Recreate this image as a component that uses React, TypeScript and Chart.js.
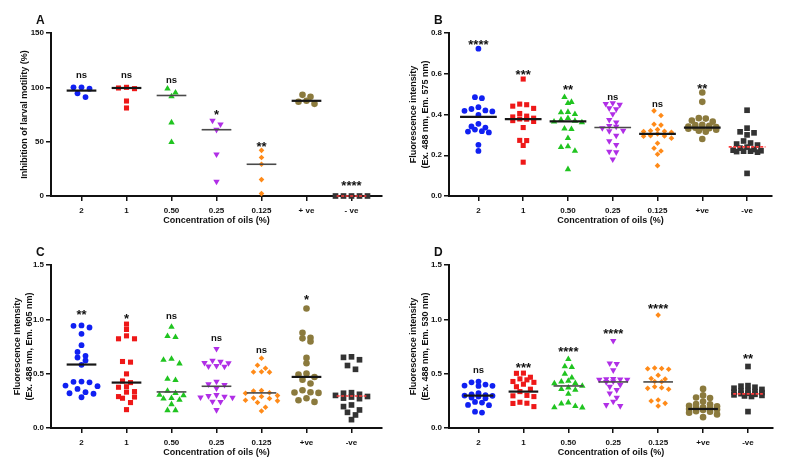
import React, { useEffect, useRef } from 'react';
import { Chart, registerables } from 'chart.js';

Chart.register(...registerables);

const FONT = "'Liberation Sans', Arial, Helvetica, sans-serif";

// ---------- categories ----------
const categoriesA = ['2', '1', '0.50', '0.25', '0.125', '+ ve', '- ve'];
const categoriesBCD = ['2', '1', '0.50', '0.25', '0.125', '+ve', '-ve'];

// ---------- y ticks ----------
const yTicksA = [0, 50, 100, 150];
const yTickLabelsA = ['0', '50', '100', '150'];
const yTicksB = [0, 0.2, 0.4, 0.6, 0.8];
const yTickLabelsB = ['0.0', '0.2', '0.4', '0.6', '0.8'];
const yTicksCD = [0, 0.5, 1.0, 1.5];
const yTickLabelsCD = ['0.0', '0.5', '1.0', '1.5'];

// ---------- Panel A: inhibition of larval motility (%) ----------
const motilityA: number[][] = [
  [100, 100, 98.8, 94.5, 91],
  [100, 99.4, 98.8, 87.4, 81],
  [98.8, 95, 91.6, 67.6, 49.5],
  [69.5, 66, 61, 38.4, 13.2],
  [42, 35.4, 29.2, 15.1, 2.2],
  [93.1, 91.3, 87.6, 86.7, 84.8],
  [0, 0, 0, 0, 0],
];
const motilityA_lines = [97, 99.4, 92.5, 61, 29.2, 87.6, 0];
const sigA = ['ns', 'ns', 'ns', '*', '**', '', '****'];
const sigA_y = [110.7, 110.7, 106.4, 77.5, 48, 0, 12.3];

// ---------- Panel B: fluorescence (Ex 488, Em 575) ----------
const fluorB: number[][] = [
  [0.723, 0.485, 0.48, 0.436, 0.427, 0.42, 0.418, 0.415, 0.398, 0.354, 0.341, 0.336, 0.326, 0.318, 0.316, 0.312, 0.251, 0.221],
  [0.574, 0.451, 0.448, 0.441, 0.43, 0.405, 0.392, 0.388, 0.382, 0.378, 0.377, 0.37, 0.366, 0.336, 0.273, 0.272, 0.248, 0.166],
  [0.485, 0.461, 0.456, 0.412, 0.41, 0.402, 0.382, 0.374, 0.368, 0.365, 0.361, 0.33, 0.328, 0.284, 0.243, 0.24, 0.221, 0.131],
  [0.456, 0.452, 0.448, 0.431, 0.426, 0.402, 0.374, 0.362, 0.344, 0.341, 0.333, 0.321, 0.319, 0.297, 0.27, 0.251, 0.218, 0.215, 0.18],
  [0.418, 0.395, 0.352, 0.348, 0.326, 0.32, 0.318, 0.316, 0.313, 0.305, 0.296, 0.295, 0.293, 0.284, 0.259, 0.234, 0.221, 0.205, 0.149],
  [0.508, 0.462, 0.382, 0.38, 0.37, 0.365, 0.35, 0.348, 0.345, 0.341, 0.338, 0.336, 0.335, 0.333, 0.33, 0.325, 0.32, 0.315, 0.28],
  [0.421, 0.333, 0.315, 0.31, 0.3, 0.27, 0.26, 0.255, 0.25, 0.24, 0.235, 0.228, 0.225, 0.222, 0.22, 0.22, 0.218, 0.215, 0.111],
];
const fluorB_lines = [0.388, 0.377, 0.366, 0.336, 0.305, 0.336, 0.241];
const sigB = ['****', '***', '**', 'ns', 'ns', '**', ''];
const sigB_y = [0.759, 0.611, 0.536, 0.485, 0.448, 0.544, 0];

// ---------- Panel C: fluorescence (Ex 488, Em 605) ----------
const fluorC: number[][] = [
  [0.944, 0.94, 0.925, 0.867, 0.762, 0.7, 0.664, 0.649, 0.621, 0.581, 0.427, 0.425, 0.42, 0.39, 0.385, 0.36, 0.33, 0.32, 0.315, 0.283],
  [0.956, 0.907, 0.848, 0.821, 0.821, 0.612, 0.606, 0.498, 0.433, 0.418, 0.38, 0.375, 0.335, 0.33, 0.289, 0.285, 0.274, 0.234, 0.169],
  [0.931, 0.845, 0.836, 0.636, 0.627, 0.593, 0.452, 0.44, 0.341, 0.32, 0.304, 0.3, 0.274, 0.27, 0.258, 0.218, 0.163, 0.163],
  [0.729, 0.62, 0.61, 0.6, 0.598, 0.572, 0.568, 0.565, 0.427, 0.403, 0.397, 0.366, 0.304, 0.295, 0.289, 0.283, 0.28, 0.243, 0.24, 0.166],
  [0.642, 0.578, 0.55, 0.518, 0.516, 0.514, 0.344, 0.34, 0.325, 0.32, 0.298, 0.29, 0.275, 0.272, 0.255, 0.25, 0.234, 0.191, 0.157],
  [1.1, 0.876, 0.83, 0.825, 0.796, 0.645, 0.596, 0.501, 0.492, 0.47, 0.445, 0.409, 0.347, 0.329, 0.326, 0.323, 0.274, 0.255, 0.24],
  [0.655, 0.65, 0.628, 0.575, 0.54, 0.325, 0.32, 0.31, 0.3, 0.29, 0.285, 0.275, 0.27, 0.212, 0.197, 0.166, 0.144, 0.12, 0.077],
];
const fluorC_lines = [0.584, 0.418, 0.332, 0.384, 0.323, 0.47, 0.295];
const sigC = ['**', '*', 'ns', 'ns', 'ns', '*', ''];
const sigC_y = [1.067, 1.036, 1.027, 0.821, 0.71, 1.211, 0];

// ---------- Panel D: fluorescence (Ex 488, Em 530) ----------
const fluorD: number[][] = [
  [0.427, 0.42, 0.4, 0.39, 0.388, 0.387, 0.32, 0.31, 0.302, 0.298, 0.296, 0.29, 0.28, 0.274, 0.24, 0.234, 0.212, 0.21, 0.15, 0.142],
  [0.505, 0.503, 0.467, 0.452, 0.443, 0.428, 0.42, 0.403, 0.38, 0.357, 0.335, 0.3, 0.296, 0.289, 0.237, 0.228, 0.226, 0.197],
  [0.633, 0.566, 0.56, 0.498, 0.464, 0.433, 0.427, 0.412, 0.41, 0.387, 0.372, 0.357, 0.35, 0.314, 0.234, 0.224, 0.2, 0.19, 0.188],
  [0.802, 0.596, 0.59, 0.532, 0.452, 0.45, 0.448, 0.446, 0.445, 0.43, 0.424, 0.397, 0.38, 0.35, 0.32, 0.28, 0.243, 0.212, 0.203],
  [1.039, 0.552, 0.548, 0.545, 0.54, 0.486, 0.455, 0.45, 0.428, 0.425, 0.38, 0.37, 0.365, 0.357, 0.258, 0.249, 0.227, 0.203],
  [0.36, 0.3, 0.28, 0.275, 0.243, 0.22, 0.218, 0.205, 0.2, 0.19, 0.185, 0.181, 0.175, 0.17, 0.165, 0.155, 0.15, 0.14, 0.125, 0.1],
  [0.566, 0.39, 0.385, 0.375, 0.366, 0.355, 0.345, 0.34, 0.335, 0.33, 0.326, 0.32, 0.316, 0.31, 0.305, 0.3, 0.295, 0.29, 0.151],
];
const fluorD_lines = [0.298, 0.335, 0.387, 0.424, 0.424, 0.175, 0.314];
const sigD = ['ns', '***', '****', '****', '****', '', '**'];
const sigD_y = [0.529, 0.581, 0.729, 0.895, 1.125, 0, 0.664];

// ---------- styles ----------
const GROUP_STYLES = [
  { color: '#1020f2', shape: 'circle', radius: 2.9, rotation: 0 },
  { color: '#ee1818', shape: 'rect', radius: 3.6, rotation: 0 },
  { color: '#20c420', shape: 'triangle', radius: 3.7, rotation: 0 },
  { color: '#b02ee6', shape: 'triangle', radius: 3.7, rotation: 180 },
  { color: '#ff8a18', shape: 'rectRot', radius: 2.8, rotation: 0 },
  { color: '#8b7a3d', shape: 'circle', radius: 3.3, rotation: 0 },
  { color: '#333333', shape: 'rect', radius: 4.0, rotation: 0 },
];
const DARK = '#161616';
const GREY = '#4a4a4a';
const NEG_LINE = '#ff3b3b';

interface Panel {
  letter: string;
  top: number;
  left: number;
  height: number;
  values: number[][];
  lines: number[];
  sig: string[];
  sigY: number[];
  categories: string[];
  yMax: number;
  yTicks: number[];
  yTickLabels: string[];
  yTitle: string | string[];
  yTitlePad: number;
  yWidth: number;
  padding: { top: number; right: number; bottom: number; left: number };
  xMin: number;
  xMax: number;
  spacingPx: number;
  halfWidth: number;
  lineColors: string[];
}

const PLOT_H = 163;
const PX_PER_X = 45;
const ROW_H = 5;
const MAX_PER_ROW = 5;

// Prism-like column scatter: points of similar value share a row and are spread symmetrically
function swarm(values: number[], center: number, yMax: number, spacingPx: number) {
  const pxPerY = PLOT_H / yMax;
  const sorted = [...values].sort((a, b) => b - a);
  const rows: number[][] = [];
  let cur: number[] = [];
  let start = 0;
  for (const v of sorted) {
    if (cur.length && ((start - v) * pxPerY > ROW_H || cur.length >= MAX_PER_ROW)) {
      rows.push(cur);
      cur = [];
    }
    if (!cur.length) start = v;
    cur.push(v);
  }
  if (cur.length) rows.push(cur);
  const pts: { x: number; y: number }[] = [];
  rows.forEach((row) => {
    const n = row.length;
    const slots = Array.from({ length: n }, (_, k) => k - (n - 1) / 2);
    slots.sort((a, b) => Math.abs(a) - Math.abs(b) || a - b);
    row.forEach((v, k) => pts.push({ x: center + (slots[k] * spacingPx) / PX_PER_X, y: v }));
  });
  return pts;
}

const annotPlugin = {
  id: 'annot',
  afterDatasetsDraw(chart: any, _args: any, opts: any) {
    const { ctx, chartArea } = chart;
    const xs = chart.scales.x;
    const ys = chart.scales.y;
    ctx.save();
    ctx.fillStyle = '#111';
    ctx.textAlign = 'center';
    ctx.textBaseline = 'alphabetic';
    (opts.sig as string[]).forEach((s, i) => {
      if (!s) return;
      const px = xs.getPixelForValue(i);
      const py = ys.getPixelForValue(opts.sigY[i]);
      if (s === 'ns') {
        ctx.font = `bold 9.5px ${FONT}`;
        ctx.fillText(s, px, py + 0.26 * 9.5);
      } else {
        ctx.font = `bold 13px ${FONT}`;
        ctx.fillText(s, px, py + 0.57 * 13);
      }
    });
    ctx.font = `bold 12px ${FONT}`;
    ctx.textAlign = 'left';
    ctx.fillText(opts.letter, chartArea.left - 15, chartArea.top - 9);
    ctx.restore();
  },
};

function buildConfig(p: Panel): any {
  const datasets: any[] = [];
  p.values.forEach((vals, i) => {
    const st = GROUP_STYLES[i];
    datasets.push({
      data: swarm(vals, i, p.yMax, p.spacingPx),
      pointStyle: st.shape,
      pointRadius: st.radius,
      pointRotation: st.rotation,
      pointBackgroundColor: st.color,
      pointBorderColor: st.color,
      pointBorderWidth: 0,
      backgroundColor: st.color,
      borderColor: st.color,
      showLine: false,
      clip: false,
      order: 2,
    });
  });
  p.lines.forEach((m, i) => {
    const neg = i === 6;
    datasets.push({
      data: [
        { x: i - p.halfWidth, y: m },
        { x: i + p.halfWidth, y: m },
      ],
      showLine: true,
      borderColor: neg ? NEG_LINE : p.lineColors[i],
      borderWidth: neg ? 1.6 : p.lineColors[i] === DARK ? 2.2 : 1.6,
      borderDash: neg ? [3, 1.5] : [],
      pointRadius: 0,
      clip: false,
      order: 1,
    });
  });

  const tickFont = { family: FONT, size: 8, weight: 'bold' as const };
  const titleFont = { family: FONT, size: 9, weight: 'bold' as const, lineHeight: 1.3 };

  return {
    type: 'scatter',
    data: { datasets },
    plugins: [annotPlugin],
    options: {
      responsive: false,
      devicePixelRatio: 1,
      animation: false,
      events: [],
      layout: { padding: p.padding },
      plugins: {
        legend: { display: false },
        tooltip: { enabled: false },
        annot: { sig: p.sig, sigY: p.sigY, letter: p.letter },
      },
      scales: {
        x: {
          type: 'linear',
          min: p.xMin,
          max: p.xMax,
          afterBuildTicks: (s: any) => {
            s.ticks = p.categories.map((_, i) => ({ value: i }));
          },
          afterFit: (s: any) => {
            s.height = 30;
          },
          ticks: {
            callback: (v: any) => p.categories[Math.round(v)] ?? '',
            font: tickFont,
            color: '#111',
            padding: 5,
            autoSkip: false,
            maxRotation: 0,
            minRotation: 0,
          },
          grid: { drawOnChartArea: false, drawTicks: true, tickLength: 5, color: '#111', lineWidth: 1.5 },
          border: { color: '#111', width: 2 },
          title: {
            display: true,
            text: 'Concentration of oils (%)',
            font: { family: FONT, size: 9, weight: 'bold' as const, lineHeight: 1.2 },
            color: '#111',
            padding: 0,
          },
        },
        y: {
          type: 'linear',
          min: 0,
          max: p.yMax,
          afterBuildTicks: (s: any) => {
            s.ticks = p.yTicks.map((v) => ({ value: v }));
          },
          afterFit: (s: any) => {
            s.width = p.yWidth;
          },
          ticks: {
            callback: (v: any) => {
              const idx = p.yTicks.findIndex((t) => Math.abs(t - v) < 1e-9);
              return idx >= 0 ? p.yTickLabels[idx] : '';
            },
            font: tickFont,
            color: '#111',
            padding: 2,
          },
          grid: { drawOnChartArea: false, drawTicks: true, tickLength: 5, color: '#111', lineWidth: 1.5 },
          border: { color: '#111', width: 2 },
          title: {
            display: true,
            text: p.yTitle,
            font: titleFont,
            color: '#111',
            padding: { top: p.yTitlePad, bottom: 0 },
          },
        },
      },
    },
  };
}

const panels: Panel[] = [
  {
    letter: 'A', top: 0, left: 0, height: 233,
    values: motilityA, lines: motilityA_lines, sig: sigA, sigY: sigA_y,
    categories: categoriesA, yMax: 150, yTicks: yTicksA, yTickLabels: yTickLabelsA,
    yTitle: 'Inhibition of larval motility (%)', yTitlePad: 19,
    yWidth: 51, padding: { top: 33, right: 13, bottom: 7, left: 0 },
    xMin: -0.678, xMax: 6.678, spacingPx: 8, halfWidth: 0.33,
    lineColors: [DARK, DARK, GREY, GREY, GREY, DARK],
  },
  {
    letter: 'B', top: 0, left: 395, height: 233,
    values: fluorB, lines: fluorB_lines, sig: sigB, sigY: sigB_y,
    categories: categoriesBCD, yMax: 0.8, yTicks: yTicksB, yTickLabels: yTickLabelsB,
    yTitle: ['Fluorescence intensity', '(Ex. 488 nm, Em. 575 nm)'], yTitlePad: 12.5,
    yWidth: 54, padding: { top: 33, right: 18, bottom: 7, left: 0 },
    xMin: -0.657, xMax: 6.557, spacingPx: 7, halfWidth: 0.41,
    lineColors: [DARK, DARK, DARK, GREY, DARK, DARK],
  },
  {
    letter: 'C', top: 233, left: 0, height: 234,
    values: fluorC, lines: fluorC_lines, sig: sigC, sigY: sigC_y,
    categories: categoriesBCD, yMax: 1.5, yTicks: yTicksCD, yTickLabels: yTickLabelsCD,
    yTitle: ['Fluorescence Intensity', '(Ex. 488 nm, Em. 605 nm)'], yTitlePad: 11.5,
    yWidth: 51, padding: { top: 32, right: 13, bottom: 9, left: 0 },
    xMin: -0.678, xMax: 6.678, spacingPx: 8, halfWidth: 0.33,
    lineColors: [DARK, DARK, GREY, GREY, GREY, DARK],
  },
  {
    letter: 'D', top: 233, left: 395, height: 234,
    values: fluorD, lines: fluorD_lines, sig: sigD, sigY: sigD_y,
    categories: categoriesBCD, yMax: 1.5, yTicks: yTicksCD, yTickLabels: yTickLabelsCD,
    yTitle: ['Fluorescence intensity', '(Ex. 488 nm, Em. 530 nm)'], yTitlePad: 12.5,
    yWidth: 54, padding: { top: 32, right: 17, bottom: 9, left: 0 },
    xMin: -0.657, xMax: 6.557, spacingPx: 7, halfWidth: 0.33,
    lineColors: [DARK, DARK, GREY, GREY, GREY, DARK],
  },
];

function PanelChart({ panel }: { panel: Panel }) {
  const ref = useRef<HTMLCanvasElement | null>(null);
  useEffect(() => {
    if (!ref.current) return;
    const chart = new Chart(ref.current, buildConfig(panel));
    return () => chart.destroy();
  }, [panel]);
  return (
    <canvas
      ref={ref}
      width={395}
      height={panel.height}
      style={{ position: 'absolute', left: panel.left, top: panel.top, width: 395, height: panel.height }}
    />
  );
}

export default function App() {
  return (
    <div style={{ position: 'absolute', left: 0, top: 0, width: 790, height: 467, background: '#fff' }}>
      {panels.map((p) => (
        <PanelChart key={p.letter} panel={p} />
      ))}
    </div>
  );
}
